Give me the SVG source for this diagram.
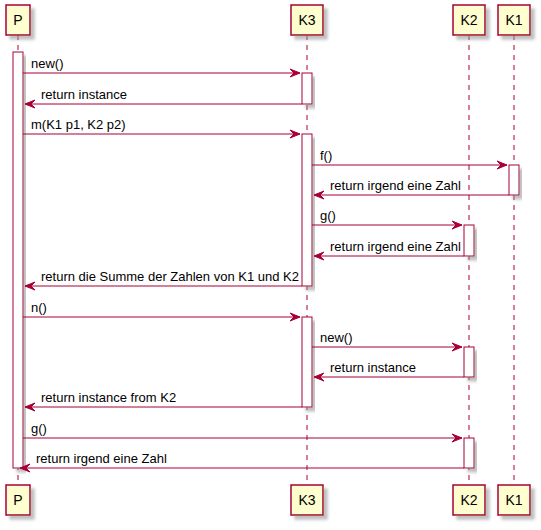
<svg xmlns="http://www.w3.org/2000/svg" width="541" height="530" viewBox="0 0 541 530">
<style>
.part{fill:#FEFECE;stroke:#A80036;stroke-width:1.5;filter:url(#sh)}
.act{fill:#FFFFFF;stroke:#A80036;stroke-width:1;filter:url(#sh)}
.life{stroke:#A80036;stroke-width:1;stroke-dasharray:5,5;fill:none}
.msg{stroke:#A80036;stroke-width:1;fill:none}
.ah{fill:#A80036;stroke:#A80036;stroke-width:1}
text{font-family:"Liberation Sans",Arial,sans-serif;fill:#000000}
.pt{font-size:14px;text-anchor:middle}
.mt{font-size:13px}
</style>
<defs>
<filter id="sh" x="-30%" y="-30%" width="160%" height="160%">
<feGaussianBlur in="SourceAlpha" stdDeviation="1.5"/>
<feOffset dx="4" dy="4" result="o"/>
<feColorMatrix in="o" type="matrix" values="0 0 0 0 0.3 0 0 0 0 0.3 0 0 0 0 0.3 0 0 0 0.6 0"/>
<feMerge><feMergeNode/><feMergeNode in="SourceGraphic"/></feMerge>
</filter>
</defs>
<g id="lifelines">
<line class="life" x1="18" y1="35" x2="18" y2="485"/>
<line class="life" x1="307" y1="35" x2="307" y2="485"/>
<line class="life" x1="469" y1="35" x2="469" y2="485"/>
<line class="life" x1="514" y1="35" x2="514" y2="485"/>
</g>
<g id="P">
<rect class="part" x="6" y="5" width="24" height="30"/>
<text class="pt" x="18" y="25">P</text>
<rect class="part" x="6" y="485" width="24" height="30"/>
<text class="pt" x="18" y="505">P</text>
</g>
<g id="K3">
<rect class="part" x="291" y="5" width="32" height="30"/>
<text class="pt" x="307" y="25">K3</text>
<rect class="part" x="291" y="485" width="32" height="30"/>
<text class="pt" x="307" y="505">K3</text>
</g>
<g id="K2">
<rect class="part" x="453" y="5" width="32" height="30"/>
<text class="pt" x="469" y="25">K2</text>
<rect class="part" x="453" y="485" width="32" height="30"/>
<text class="pt" x="469" y="505">K2</text>
</g>
<g id="K1">
<rect class="part" x="498" y="5" width="32" height="30"/>
<text class="pt" x="514" y="25">K1</text>
<rect class="part" x="498" y="485" width="32" height="30"/>
<text class="pt" x="514" y="505">K1</text>
</g>
<g id="activations">
<rect class="act" x="13" y="52" width="10" height="416"/>
<rect class="act" x="302" y="73" width="10" height="31"/>
<rect class="act" x="302" y="134" width="10" height="152"/>
<rect class="act" x="509" y="165" width="10" height="30"/>
<rect class="act" x="464" y="225" width="10" height="31"/>
<rect class="act" x="302" y="317" width="10" height="90"/>
<rect class="act" x="464" y="347" width="10" height="30"/>
<rect class="act" x="464" y="438" width="10" height="30"/>
</g>
<g id="connectors">
<!-- new() -->
<line class="msg" x1="23" y1="73" x2="300" y2="73"/>
<polygon class="ah" points="290,69 300,73 290,77 294,73"/>
<text class="mt" x="31" y="68">new()</text>
<!-- return instance -->
<line class="msg" x1="302" y1="104" x2="25" y2="104"/>
<polygon class="ah" points="35,100 25,104 35,108 31,104"/>
<text class="mt" x="41" y="99">return instance</text>
<!-- m(...) -->
<line class="msg" x1="23" y1="134" x2="300" y2="134"/>
<polygon class="ah" points="290,130 300,134 290,138 294,134"/>
<text class="mt" x="31" y="129">m(K1 p1, K2 p2)</text>
<!-- f() -->
<line class="msg" x1="312" y1="165" x2="507" y2="165"/>
<polygon class="ah" points="497,161 507,165 497,169 501,165"/>
<text class="mt" x="320" y="160">f()</text>
<!-- return irgend eine Zahl -->
<line class="msg" x1="509" y1="195" x2="314" y2="195"/>
<polygon class="ah" points="324,191 314,195 324,199 320,195"/>
<text class="mt" x="330" y="190">return irgend eine Zahl</text>
<!-- g() -->
<line class="msg" x1="312" y1="225" x2="462" y2="225"/>
<polygon class="ah" points="452,221 462,225 452,229 456,225"/>
<text class="mt" x="320" y="220">g()</text>
<!-- return irgend eine Zahl -->
<line class="msg" x1="464" y1="256" x2="314" y2="256"/>
<polygon class="ah" points="324,252 314,256 324,260 320,256"/>
<text class="mt" x="330" y="251">return irgend eine Zahl</text>
<!-- return die Summe -->
<line class="msg" x1="302" y1="286" x2="25" y2="286"/>
<polygon class="ah" points="35,282 25,286 35,290 31,286"/>
<text class="mt" x="41" y="281">return die Summe der Zahlen von K1 und K2</text>
<!-- n() -->
<line class="msg" x1="23" y1="317" x2="300" y2="317"/>
<polygon class="ah" points="290,313 300,317 290,321 294,317"/>
<text class="mt" x="31" y="312">n()</text>
<!-- new() -->
<line class="msg" x1="312" y1="347" x2="462" y2="347"/>
<polygon class="ah" points="452,343 462,347 452,351 456,347"/>
<text class="mt" x="320" y="342">new()</text>
<!-- return instance -->
<line class="msg" x1="464" y1="377" x2="314" y2="377"/>
<polygon class="ah" points="324,373 314,377 324,381 320,377"/>
<text class="mt" x="330" y="372">return instance</text>
<!-- return instance from K2 -->
<line class="msg" x1="302" y1="407" x2="25" y2="407"/>
<polygon class="ah" points="35,403 25,407 35,411 31,407"/>
<text class="mt" x="41" y="402">return instance from K2</text>
<!-- g() -->
<line class="msg" x1="23" y1="438" x2="462" y2="438"/>
<polygon class="ah" points="452,434 462,438 452,442 456,438"/>
<text class="mt" x="31" y="433">g()</text>
<!-- return irgend eine Zahl -->
<line class="msg" x1="464" y1="468" x2="20" y2="468"/>
<polygon class="ah" points="30,464 20,468 30,472 26,468"/>
<text class="mt" x="36" y="463">return irgend eine Zahl</text>
</g>
</svg>
